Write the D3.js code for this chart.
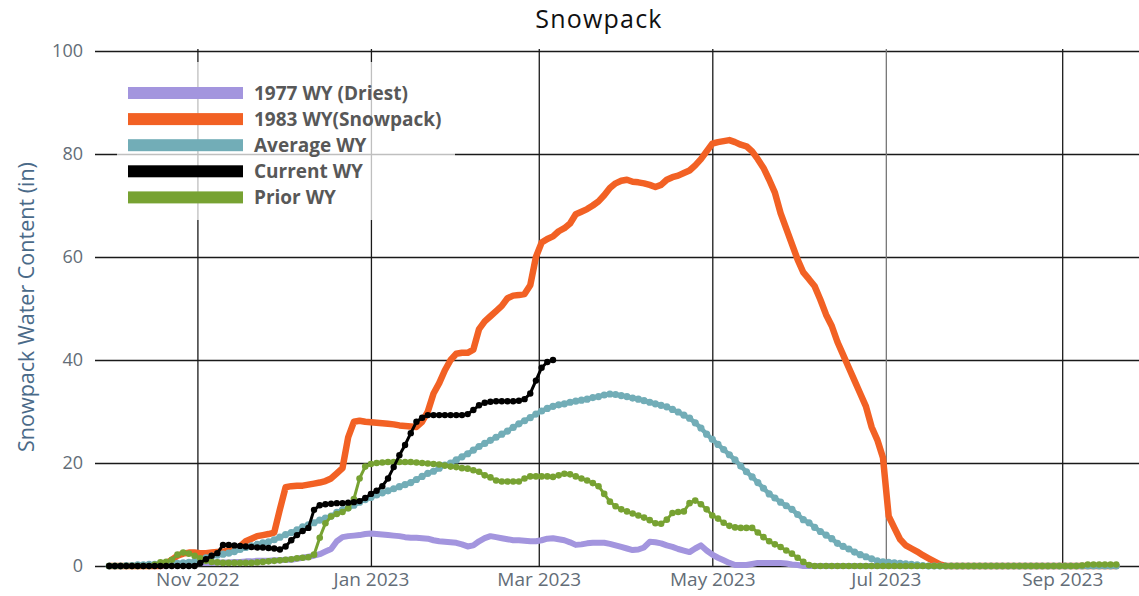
<!DOCTYPE html>
<html>
<head>
<meta charset="utf-8">
<script src="https://cdn.jsdelivr.net/npm/d3@7"></script>
<style>
  body { margin: 0; background: #fff; }
  text { font-family: "Open Sans", sans-serif; }
</style>
</head>
<body>
<div id="chart"></div>
<script>
const width = 1139;
const height = 596;

// one value every 2 days, Oct 1 2022 .. Sep 30 2023
const dates = d3.timeDay.range(new Date(2022, 9, 1), new Date(2023, 9, 1), 2);

const driest1977 = [
  0,0,0,0,0, 0,0,0,0,0, 0.2,0.3,0.4,0.5,0.6, 0.6,0.6,0.6,0.6,0.7,
  0.7,0.7,0.8,0.8,0.9, 0.9,1.0,1.0,1.0,1.1, 1.1,1.2,1.2,1.4,1.6, 1.8,2.0,2.3,2.8,3.3,
  4.8,5.6,5.8,5.9,6.0, 6.2,6.3,6.2,6.1,6.0, 5.9,5.8,5.6,5.5,5.5, 5.4,5.3,5.0,4.8,4.7,
  4.6,4.5,4.2,3.8,4.0, 4.8,5.4,5.8,5.6,5.4, 5.2,5.0,5.0,4.9,4.8, 4.8,5.0,5.3,5.4,5.2,
  5.0,4.6,4.1,4.2,4.4, 4.5,4.5,4.5,4.3,4.0, 3.7,3.4,3.1,3.2,3.6, 4.7,4.6,4.4,4.0,3.7,
  3.3,3.0,2.7,3.4,4.0, 3.0,2.2,1.6,1.1,0.6, 0.2,0.2,0.2,0.4,0.6, 0.6,0.6,0.6,0.6,0.5,
  0.3,0.2,0,0,0, 0,0,0,0,0, 0,0,0,0,0, 0,0,0,0,0, 0,0,0,0,0, 0,0,0,0,0,
  0,0,0,0,0, 0,0,0,0,0, 0,0,0,0,0, 0,0,0,0,0, 0,0,0,0,0, 0,0,0
];

const snowpack1983 = [
  0,0,0,0,0, 0,0,0,0,0, 0.5,1.2,2.0,2.4,2.6, 2.6,2.5,2.5,2.6,2.7,
  2.8,3.0,3.2,3.8,4.8, 5.3,5.8,6.0,6.2,6.5, 11,15.3,15.5,15.6,15.6, 15.8,16.0,16.2,16.5,17.0,
  18.0,19.0,25,28.0,28.2, 28.0,27.9,27.8,27.7,27.6, 27.5,27.3,27.2,27.1,27.0, 28.0,30.0,33.5,35.5,38.0,
  40.0,41.2,41.4,41.4,42, 46.0,47.5,48.5,49.5,50.5, 52.0,52.5,52.6,52.8,54.5, 60.0,62.8,63.5,64.0,65.0,
  65.6,66.5,68.3,68.8,69.3, 70.0,70.8,72.0,73.4,74.3, 74.8,75.0,74.6,74.5,74.3, 74.0,73.6,74.0,75.0,75.5,
  75.8,76.3,76.8,77.8,79.0, 80.5,82.0,82.3,82.5,82.7, 82.3,81.8,81.5,80.5,79.0, 77.3,75.0,72.5,68.5,65.5,
  62.5,59.5,57.0,55.7,54.3, 51.7,48.8,46.6,43.5,41.0, 38.5,36.0,33.5,31.0,27.0, 24.5,21.0,9.7,7.4,5.2,
  4.0,3.4,2.8,2.1,1.5, 0.9,0.3,0,0,0, 0,0,0,0,0, 0,0,0,0,0, 0,0,0,0,0, 0,0,0,0,0,
  0,0,0,0,0, 0,0,0
];

const averageWY = [
  0,0,0,0.1,0.1, 0.2,0.2,0.3,0.3,0.4, 0.4,0.5,0.5,0.6,0.7, 0.9,1.2,1.6,1.9,2.1,
  2.3,2.5,2.8,3.2,3.6, 3.9,4.2,4.5,4.7,5.1, 5.6,6.1,6.5,7.0,7.6, 8.0,8.4,8.9,9.3,9.7,
  10.4,10.9,11.3,11.8,12.4, 12.9,13.3,13.8,14.2,14.6, 15.0,15.4,15.8,16.2,16.8, 17.4,18.0,18.4,19.0,19.6,
  20.0,20.6,21.2,21.8,22.5, 23.2,23.8,24.4,25.0,25.6, 26.2,26.9,27.6,28.2,28.8, 29.5,30.1,30.6,31.0,31.3,
  31.5,31.8,32.0,32.2,32.4, 32.7,32.9,33.2,33.4,33.3, 33.1,32.9,32.6,32.4,32.1, 31.8,31.5,31.2,30.9,30.4,
  29.9,29.3,28.7,27.8,26.8, 25.6,24.6,23.6,22.6,21.6, 20.6,19.4,18.3,17.3,16.2, 15.1,14.0,13.2,12.4,11.7,
  11.0,10.0,9.0,8.4,7.5, 6.7,6.0,5.3,4.4,3.8, 3.3,2.7,2.2,1.8,1.4, 1.0,0.8,0.7,0.6,0.5,
  0.4,0.3,0.2,0.1,0, 0,0,0,0,0, 0,0,0,0,0, 0,0,0,0,0, 0,0,0,0,0, 0,0,0,0,0,
  0,0,0,0,0, 0,0,0
];

const currentWY = [
  0,0,0,0,0, 0,0,0,0,0, 0,0,0,0,0, 0,0.6,1.3,2.0,2.5,
  4.1,4.1,4.0,3.9,3.8, 3.7,3.6,3.6,3.5,3.4, 3.2,3.8,5.0,6.0,6.8, 7.4,10.9,11.8,12.0,12.1,
  12.2,12.2,12.3,12.4,12.6, 13.2,14.0,14.6,15.5,17.0, 19.2,21.5,23.5,25.8,28.0, 28.8,29.3,29.3,29.3,29.3,
  29.3,29.3,29.3,29.5,30.3, 31.2,31.7,31.9,32.0,32.0, 32.0,32.0,32.1,32.4,33.5, 36.0,38.5,39.6,40.0
];

const priorWY = [
  0,0,0,0,0, 0,0,0,0.3,0.7, 0.8,1.2,2.2,2.6,2.4, 2.0,1.5,1.0,0.8,0.7,
  0.6,0.6,0.6,0.6,0.6, 0.6,0.7,0.8,0.9,1.0, 1.1,1.2,1.3,1.5,1.6, 1.7,2.2,5.5,8.3,9.6,
  10.1,10.5,11.2,13.0,17.0, 19.3,19.8,20.0,20.1,20.2, 20.2,20.2,20.2,20.2,20.1, 20.0,19.9,19.8,19.7,19.5,
  19.3,19.2,19.0,18.9,18.6, 18.3,17.6,17.2,16.6,16.4, 16.4,16.4,16.4,17.0,17.4, 17.4,17.4,17.4,17.3,17.6,
  17.9,17.8,17.4,17.0,16.6, 16.1,15.5,14.0,12.5,11.6, 11.0,10.6,10.2,9.8,9.4, 8.9,8.3,8.2,9.0,10.3,
  10.5,10.6,12.2,12.7,12.0, 11.0,9.8,9.2,8.4,7.8, 7.5,7.4,7.4,7.4,6.5, 5.6,4.8,4.2,3.7,3.0,
  2.4,1.6,0.8,0.2,0, 0,0,0,0,0, 0,0,0,0,0, 0,0,0,0,0, 0,0,0,0,0, 0,0,0,0,0,
  0,0,0,0,0, 0,0,0,0,0, 0,0,0,0,0, 0,0,0,0,0, 0,0.1,0.3,0.3,0.3, 0.3,0.3,0.3
];

const seriesNames = ["1977 WY (Driest)", "1983 WY(Snowpack)", "Average WY", "Current WY", "Prior WY"];
const seriesColors = ["#a395de", "#f26124", "#72adb7", "#000000", "#77a232"];
const yTicks = [0, 20, 40, 60, 80, 100];
const xTicks = [new Date(2022, 10, 1), new Date(2023, 0, 1), new Date(2023, 2, 1),
                new Date(2023, 4, 1), new Date(2023, 6, 1), new Date(2023, 8, 1)];

const svg = d3.select("#chart")
  .append("svg")
  .attr("width", width)
  .attr("height", height);

const xScale = d3.scaleTime()
  .domain([new Date(2022, 8, 26), new Date(2023, 8, 28)])
  .range([95, 1139]);

const yScale = d3.scaleLinear()
  .domain([0, 100])
  .range([566, 51]);

svg.append("defs").append("clipPath")
  .attr("id", "plot-clip")
  .append("rect")
  .attr("x", 95).attr("y", 40)
  .attr("width", 1139 - 95).attr("height", 535);

// horizontal grid + y labels
const leftAxis = d3.axisLeft(yScale)
  .tickValues(yTicks)
  .tickSize(-(1139 - 95))
  .tickPadding(12);

const gy = svg.append("g")
  .attr("transform", "translate(95,0)")
  .call(leftAxis);
gy.select(".domain").remove();
gy.selectAll("line").attr("stroke", "#1a1a1a").attr("stroke-width", 1.3);
gy.selectAll("text")
  .attr("fill", "#636d77")
  .style("font-size", "18px");

// vertical grid + x labels
const bottomAxis = d3.axisBottom(xScale)
  .tickValues(xTicks)
  .tickFormat(d3.timeFormat("%b %Y"))
  .tickSize(-(566 - 49))
  .tickPadding(7);

const gx = svg.append("g")
  .attr("transform", "translate(0,566)")
  .call(bottomAxis);
gx.select(".domain").remove();
gx.selectAll("line")
  .attr("stroke", (d, i) => i === 4 ? "#777" : "#1a1a1a")
  .attr("stroke-width", 1.3);
gx.selectAll("text")
  .attr("fill", "#636d77")
  .style("font-size", "19px");

// legend background (semi transparent, greys the grid behind it)
svg.append("rect")
  .attr("x", 117).attr("y", 62)
  .attr("width", 338).attr("height", 158)
  .attr("fill", "#fff")
  .attr("opacity", 0.72);

const plot = svg.append("g").attr("clip-path", "url(#plot-clip)");

const line = d3.line()
  .x((d, i) => xScale(dates[i]))
  .y(d => yScale(d));

const drawSeries = (values, colour, lineWidth, dotR) => {
  plot.append("path")
    .datum(values)
    .attr("fill", "none")
    .attr("stroke", colour)
    .attr("stroke-width", lineWidth)
    .attr("stroke-linejoin", "round")
    .attr("stroke-linecap", "round")
    .attr("d", line);

  if (dotR > 0) {
    plot.append("g")
      .selectAll("circle")
      .data(values)
      .join("circle")
      .attr("cx", (d, i) => xScale(dates[i]))
      .attr("cy", d => yScale(d))
      .attr("r", dotR)
      .attr("fill", colour);
  }
};

drawSeries(driest1977, seriesColors[0], 6, 0);
drawSeries(snowpack1983, seriesColors[1], 6.5, 0);
drawSeries(averageWY, seriesColors[2], 4.5, 3.6);
drawSeries(priorWY, seriesColors[4], 3, 3.3);
drawSeries(currentWY, seriesColors[3], 3, 3.2);

// title
svg.append("text")
  .attr("x", 599)
  .attr("y", 28)
  .attr("text-anchor", "middle")
  .attr("fill", "#111")
  .style("font-size", "25px")
  .style("letter-spacing", "1.2px")
  .text("Snowpack");

// y axis title
svg.append("text")
  .attr("transform", "translate(34,307) rotate(-90)")
  .attr("text-anchor", "middle")
  .attr("fill", "#4a6a88")
  .style("font-size", "21.5px")
  .text("Snowpack Water Content (in)");

// legend
const legend = svg.append("g")
  .attr("transform", "translate(128,93)");

seriesNames.forEach((name, i) => {
  const g = legend.append("g")
    .attr("transform", `translate(0, ${i * 26.1})`);

  g.append("rect")
    .attr("y", -6)
    .attr("width", 115)
    .attr("height", 12)
    .attr("fill", seriesColors[i]);

  g.append("text")
    .attr("x", 126)
    .attr("y", 6.5)
    .attr("fill", "#585858")
    .style("font-size", "19px")
    .style("font-weight", "700")
    .text(name);
});
</script>
</body>
</html>
